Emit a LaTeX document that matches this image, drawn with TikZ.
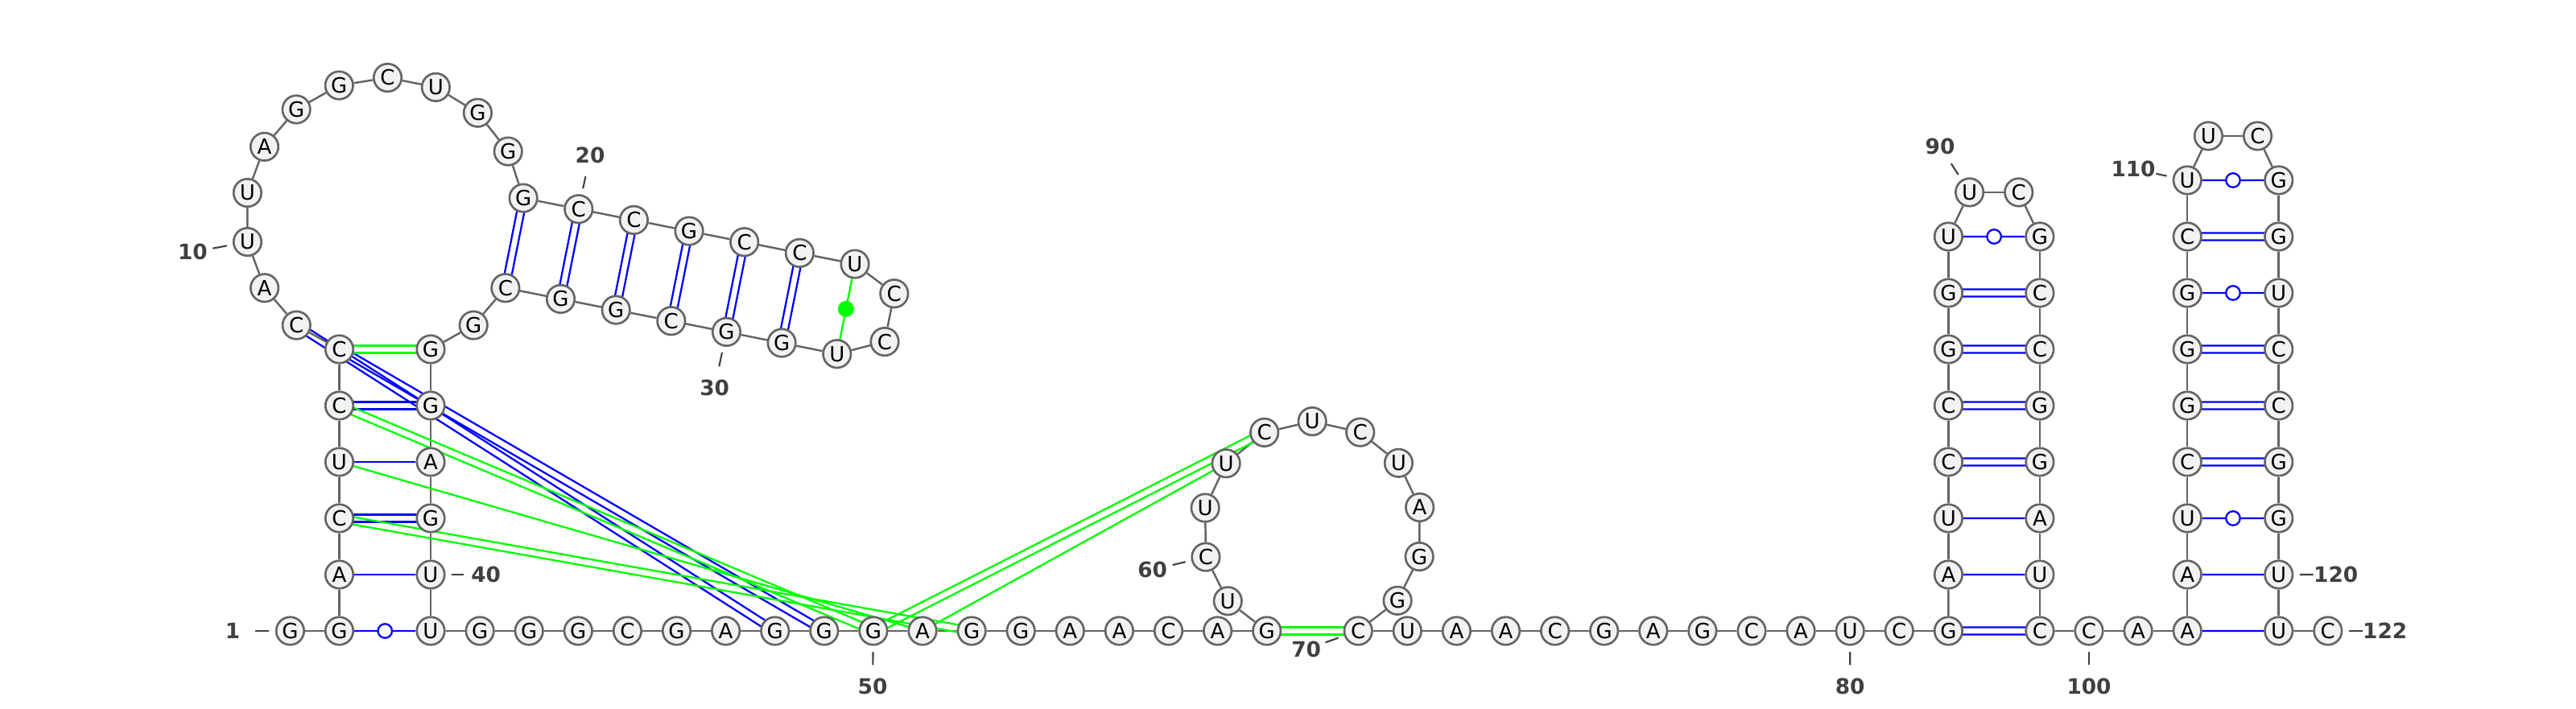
\documentclass[tikz,border=0pt]{standalone}
\usepackage{fontspec}
\setmainfont{DejaVu Sans}
\usetikzlibrary{calc,backgrounds}
\definecolor{ntB}{RGB}{0,0,255}
\definecolor{ntG}{RGB}{0,255,0}
\definecolor{ntL}{RGB}{100,100,100}
\definecolor{ntF}{RGB}{242,242,242}
\definecolor{ntN}{RGB}{64,64,64}
\tikzset{
 nt/.style={circle,draw=ntL,fill=ntF,line width=0.75pt,minimum size=3.45mm,inner sep=0pt,font=\fontsize{7.4}{8}\selectfont},
 bb/.style={draw=ntL,line width=0.7pt},
 cw/.style={draw=ntB,line width=0.65pt},
 nc/.style={draw=ntG,line width=0.65pt},
 wob/.style={circle,draw=ntB,fill=white,line width=0.65pt,minimum size=1.75mm,inner sep=0pt},
 ncdot/.style={circle,fill=ntG,minimum size=2mm,inner sep=0pt},
 numlab/.style={inner sep=0pt,text=ntN,font=\fontsize{7.5}{8}\selectfont\bfseries},
 tick/.style={draw=ntN,line width=0.6pt,shorten >=0.75mm}
}
% two parallel strokes between two bases
\newcommand{\twopair}[3]{%
 \draw[#1] ($(#2)!1.3pt!90:(#3)$) -- ($(#3)!1.3pt!-90:(#2)$);
 \draw[#1] ($(#2)!1.3pt!-90:(#3)$) -- ($(#3)!1.3pt!90:(#2)$);}

\begin{document}
\begin{tikzpicture}
\useasboundingbox (0,0) rectangle (32,8.81);
% 5' end and first stem
\node[nt] (n1) at (3.604,0.97) {G};
\foreach \b [count=\k from 0] in {G,A,C,U,C,C} {\pgfmathtruncatemacro\i{2+\k}
 \node[nt] (n\i) at (4.215,{0.97+0.7*\k}) {\b};}
\foreach \b [count=\k from 0] in {U,U,G,A,G,G} {\pgfmathtruncatemacro\i{41-\k}
 \node[nt] (n\i) at (5.35,{0.97+0.7*\k}) {\b};}
% multiloop
\coordinate (mc) at (4.7825,6.11);
\foreach \i/\b [count=\k] in {8/C,9/A,10/U,11/U,12/A,13/G,14/G,15/C,16/U,17/G,18/G,19/G}
 \node[nt] (n\i) at ([shift={({250.91-20.25*\k}:1.735)}]mc) {\b};
\node[nt] (n34) at ([shift={(329.59:1.735)}]mc) {C};
\node[nt] (n35) at ([shift={(309.34:1.735)}]mc) {G};
% hairpin 19-34
\foreach \i/\b [count=\k] in {20/C,21/C,22/G,23/C,24/C,25/U}
 \node[nt] (n\i) at ($(n19)+\k*(0.6865,-0.1366)$) {\b};
\foreach \i/\b [count=\k] in {33/G,32/G,31/C,30/G,29/G,28/U}
 \node[nt] (n\i) at ($(n34)+\k*(0.6865,-0.1366)$) {\b};
\node[nt] (n26) at (11.108,5.162) {C};
\node[nt] (n27) at (10.990,4.564) {C};
% strand 42-58 and loop 58-70
\foreach \b [count=\k] in {G,G,G,C,G,A,G,G,G,A,G,G,A,A,C,A,G} {\pgfmathtruncatemacro\i{41+\k}
 \node[nt] (n\i) at ({5.35+0.611*\k},0.97) {\b};}
\coordinate (hc) at (16.3045,2.21);
\foreach \b [count=\k] in {U,C,U,U,C,U,C,U,A,G,G} {\pgfmathtruncatemacro\i{58+\k}
 \node[nt] (n\i) at ([shift={({245.41-25.88*\k}:1.364)}]hc) {\b};}
\foreach \b [count=\k from 0] in {C,U,A,A,C,G,A,G,C,A,U,C,G} {\pgfmathtruncatemacro\i{70+\k}
 \node[nt] (n\i) at ({16.872+0.611*\k},0.97) {\b};}
% hairpin 82-99
\foreach \b [count=\k] in {A,U,C,C,G,G,U} {\pgfmathtruncatemacro\i{82+\k}
 \node[nt] (n\i) at (24.204,{0.97+0.7*\k}) {\b};}
\node[nt] (n90) at (24.466,6.42) {U};
\node[nt] (n91) at (25.077,6.42) {C};
\foreach \b [count=\k from 0] in {G,C,C,G,G,A,U,C} {\pgfmathtruncatemacro\i{92+\k}
 \node[nt] (n\i) at (25.339,{5.87-0.7*\k}) {\b};}
\node[nt] (n100) at (25.95,0.97) {C};
\node[nt] (n101) at (26.561,0.97) {A};
\node[nt] (n102) at (27.172,0.97) {A};
% hairpin 102-121
\foreach \b [count=\k] in {A,U,C,G,G,G,C,U} {\pgfmathtruncatemacro\i{102+\k}
 \node[nt] (n\i) at (27.172,{0.97+0.7*\k}) {\b};}
\node[nt] (n111) at (27.434,7.12) {U};
\node[nt] (n112) at (28.045,7.12) {C};
\foreach \b [count=\k from 0] in {G,G,U,C,C,G,G,U,U} {\pgfmathtruncatemacro\i{113+\k}
 \node[nt] (n\i) at (28.307,{6.57-0.7*\k}) {\b};}
\node[nt] (n122) at (28.918,0.97) {C};

\begin{scope}[on background layer]
\foreach \i in {1,...,121} {\pgfmathtruncatemacro\j{\i+1}
 \draw[bb] (n\i) -- (n\j);}
% canonical pairs
\foreach \a/\b in {3/40,5/38,83/98,84/97,102/121,103/120,2/41,89/92,104/119,108/115,110/113}
 \draw[cw] (n\a) -- (n\b);
\foreach \a/\b in {4/39,6/37,19/34,20/33,21/32,22/31,23/30,24/29,7/49,8/48,82/99,85/96,86/95,87/94,88/93,105/118,106/117,107/116,109/114}
 \twopair{cw}{n\a}{n\b};
% non-canonical pairs
\foreach \a/\b in {5/51,51/62,25/28}
 \draw[nc] (n\a) -- (n\b);
\foreach \a/\b in {7/36,6/50,4/52,50/63,58/70}
 \twopair{nc}{n\a}{n\b};
\end{scope}
\foreach \a/\b in {2/41,89/92,104/119,108/115,110/113}
 \node[wob] (gu\a) at ($(n\a)!0.5!(n\b)$) {};
\node[ncdot] (nd25) at ($(n25)!0.5!(n28)$) {};

% numbering
\foreach \lab/\nt/\pos/\sa in {1/1/{2.89,0.97}/1.8mm,10/10/{2.394,5.677}/0.6mm,20/20/{7.33,6.88}/1.6mm,
 30/30/{8.877,3.993}/1.6mm,40/40/{6.037,1.67}/0.9mm,50/50/{10.84,0.28}/1.6mm,60/60/{14.317,1.73}/0.6mm,
 70/70/{16.227,0.743}/0.5mm,80/80/{22.982,0.28}/1.6mm,90/90/{24.10,6.993}/1.3mm,100/100/{25.95,0.28}/1.6mm,
 110/110/{26.50,6.71}/0mm,120/120/{29.017,1.67}/0mm,122/122/{29.627,0.97}/0mm} {
 \node[numlab] (lab\lab) at (\pos) {\lab};
 \draw[tick,shorten <=\sa] (lab\lab) -- (n\nt);}
\end{tikzpicture}
\end{document}
